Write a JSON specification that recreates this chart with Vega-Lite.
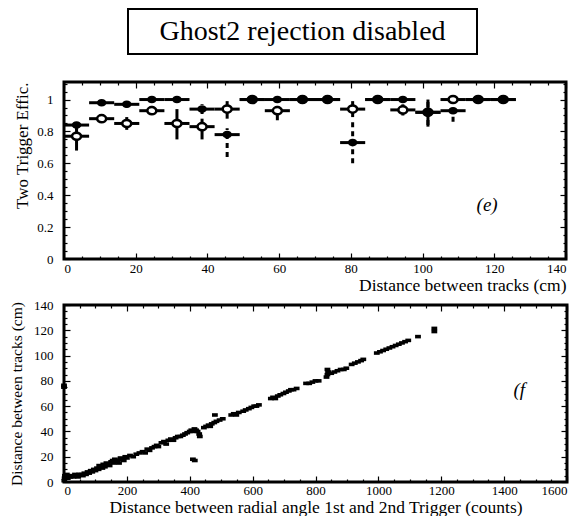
{
  "$schema": "https://vega.github.io/schema/vega-lite/v6.json",
  "background": "white",
  "padding": {"left": 7, "top": 8, "right": 2, "bottom": 1},
  "config": {
    "font": "Liberation Serif, serif",
    "view": {"stroke": null},
    "text": {"font": "Liberation Serif, serif"},
    "axis": {
      "grid": false, "domain": false, "tickColor": "black", "labelColor": "black", "titleColor": "black",
      "labelFont": "Liberation Serif, serif", "titleFont": "Liberation Serif, serif", "labelFontSize": 13,
      "titleFontWeight": "normal", "tickWidth": 1.2
    }
  },
  "spacing": 24,
  "vconcat": [
    {
      "spacing": 0,
      "hconcat": [
        {
          "width": 63, "height": 45,
          "data": {"values": [{}]},
          "mark": {"type": "text", "text": ""},
          "encoding": {}
        },
        {
          "width": 349, "height": 45,
          "view": {"stroke": "black", "strokeWidth": 2},
          "data": {"values": [{"t": "Ghost2 rejection disabled"}]},
          "mark": {"type": "text", "fontSize": 28, "font": "Liberation Serif, serif", "color": "black"},
          "encoding": {"text": {"field": "t"}}
        }
      ]
    },
    {
      "spacing": 2,
      "vconcat": [
        {
          "width": 502, "height": 177,
          "view": {"stroke": "black", "strokeWidth": 3},
          "data": {"values": [
            {"s":"O","x":3.5,"xlo":0,"xhi":7,"eff":0.77,"lo":0.68,"hi":0.84},
            {"s":"O","x":10.5,"xlo":7,"xhi":14,"eff":0.88,"lo":0.86,"hi":0.9},
            {"s":"O","x":17.5,"xlo":14,"xhi":21,"eff":0.85,"lo":0.81,"hi":0.89},
            {"s":"O","x":24.5,"xlo":21,"xhi":28,"eff":0.93,"lo":0.91,"hi":0.96},
            {"s":"O","x":31.5,"xlo":28,"xhi":35,"eff":0.85,"lo":0.75,"hi":0.94},
            {"s":"O","x":38.5,"xlo":35,"xhi":42,"eff":0.83,"lo":0.75,"hi":0.88},
            {"s":"O","x":45.5,"xlo":42,"xhi":49,"eff":0.94,"lo":0.88,"hi":0.99},
            {"s":"O","x":52.5,"xlo":49,"xhi":56,"eff":1,"lo":1,"hi":1},
            {"s":"O","x":59.5,"xlo":56,"xhi":63,"eff":0.93,"lo":0.87,"hi":0.96},
            {"s":"O","x":66.5,"xlo":63,"xhi":70,"eff":1,"lo":1,"hi":1},
            {"s":"O","x":73.5,"xlo":70,"xhi":77,"eff":1,"lo":1,"hi":1},
            {"s":"O","x":80.5,"xlo":77,"xhi":84,"eff":0.94,"lo":0.89,"hi":0.99},
            {"s":"O","x":87.5,"xlo":84,"xhi":91,"eff":1,"lo":1,"hi":1},
            {"s":"O","x":94.5,"xlo":91,"xhi":98,"eff":0.935,"lo":0.9,"hi":0.97},
            {"s":"O","x":101.5,"xlo":98,"xhi":105,"eff":0.92,"lo":0.83,"hi":1},
            {"s":"O","x":108.5,"xlo":105,"xhi":112,"eff":1,"lo":1,"hi":1},
            {"s":"O","x":115.5,"xlo":112,"xhi":119,"eff":1,"lo":1,"hi":1},
            {"s":"O","x":122.5,"xlo":119,"xhi":126,"eff":1,"lo":1,"hi":1},
            {"s":"F","x":3.5,"xlo":0,"xhi":7,"eff":0.84,"lo":0.81,"hi":0.86},
            {"s":"F","x":10.5,"xlo":7,"xhi":14,"eff":0.98,"lo":0.97,"hi":0.99},
            {"s":"F","x":17.5,"xlo":14,"xhi":21,"eff":0.97,"lo":0.95,"hi":0.99},
            {"s":"F","x":24.5,"xlo":21,"xhi":28,"eff":1,"lo":0.98,"hi":1},
            {"s":"F","x":31.5,"xlo":28,"xhi":35,"eff":1,"lo":1,"hi":1},
            {"s":"F","x":38.5,"xlo":35,"xhi":42,"eff":0.94,"lo":0.91,"hi":0.97},
            {"s":"F","x":45.5,"xlo":42,"xhi":49,"eff":0.78,"lo":0.64,"hi":0.82},
            {"s":"F","x":52.5,"xlo":49,"xhi":56,"eff":1,"lo":1,"hi":1},
            {"s":"F","x":59.5,"xlo":56,"xhi":63,"eff":1,"lo":0.98,"hi":1},
            {"s":"F","x":66.5,"xlo":63,"xhi":70,"eff":1,"lo":1,"hi":1},
            {"s":"F","x":73.5,"xlo":70,"xhi":77,"eff":1,"lo":1,"hi":1},
            {"s":"F","x":80.5,"xlo":77,"xhi":84,"eff":0.73,"lo":0.6,"hi":0.86},
            {"s":"F","x":87.5,"xlo":84,"xhi":91,"eff":1,"lo":1,"hi":1},
            {"s":"F","x":94.5,"xlo":91,"xhi":98,"eff":1,"lo":0.98,"hi":1},
            {"s":"F","x":101.5,"xlo":98,"xhi":105,"eff":0.92,"lo":0.84,"hi":0.99},
            {"s":"F","x":108.5,"xlo":105,"xhi":112,"eff":0.93,"lo":0.86,"hi":0.95},
            {"s":"F","x":115.5,"xlo":112,"xhi":119,"eff":1,"lo":1,"hi":1},
            {"s":"F","x":122.5,"xlo":119,"xhi":126,"eff":1,"lo":1,"hi":1}
          ]},
          "layer": [
            {
              "transform": [{"filter": "datum.s === 'O'"}],
              "mark": {"type": "rule", "strokeWidth": 3, "color": "black"},
              "encoding": {
                "x": {"field": "x", "type": "quantitative", "scale": {"domain": [0, 140], "nice": false, "zero": false},
                      "axis": {"orient": "bottom", "values": [0,20,40,60,80,100,120,140], "tickSize": -6, "labelPadding": 9,
                               "title": "Distance between tracks (cm)", "titleAnchor": "end", "titleFontSize": 17.5, "titlePadding": 1}},
                "y": {"field": "lo", "type": "quantitative", "scale": {"domain": [0, 1.11], "nice": false, "zero": false},
                      "axis": {"orient": "left", "values": [0,0.2,0.4,0.6,0.8,1], "format": "~g", "tickSize": -6, "labelPadding": 17,
                               "minExtent": 30, "maxExtent": 30,
                               "title": "Two Trigger Effic.", "titleAnchor": "end", "titleFontSize": 17, "titlePadding": 3}},
                "y2": {"field": "hi"}
              }
            },
            {
              "transform": [{"filter": "datum.s === 'O'"}],
              "mark": {"type": "rule", "strokeWidth": 3, "color": "black"},
              "encoding": {
                "x": {"field": "xlo", "type": "quantitative", "scale": {"domain": [0, 140], "nice": false, "zero": false},
                      "axis": {"orient": "top", "values": [0,20,40,60,80,100,120,140], "tickSize": -6, "labels": false, "title": null}},
                "x2": {"field": "xhi"},
                "y": {"field": "eff", "type": "quantitative", "scale": {"domain": [0, 1.11], "nice": false, "zero": false},
                      "axis": {"orient": "right", "values": [0,0.2,0.4,0.6,0.8,1], "tickSize": -6, "labels": false, "title": null}}
              }
            },
            {
              "transform": [{"filter": "datum.s === 'O'"}],
              "mark": {"type": "point", "shape": "M-1,0A1,0.8,0,1,1,1,0A1,0.8,0,1,1,-1,0Z", "filled": false, "fill": "white", "stroke": "black", "strokeWidth": 2.5, "size": 80, "opacity": 1},
              "encoding": {
                "x": {"field": "x", "type": "quantitative", "scale": {"domain": [0, 140], "nice": false, "zero": false},
                      "axis": {"orient": "bottom", "values": [5,10,15,25,30,35,45,50,55,65,70,75,85,90,95,105,110,115,125,130,135], "tickSize": -3, "labels": false, "title": null}},
                "y": {"field": "eff", "type": "quantitative", "scale": {"domain": [0, 1.11], "nice": false, "zero": false},
                      "axis": {"orient": "left", "values": [0.05,0.1,0.15,0.25,0.3,0.35,0.45,0.5,0.55,0.65,0.7,0.75,0.85,0.9,0.95,1.05,1.1], "tickSize": -3, "labels": false, "title": null}}
              }
            },
            {
              "transform": [{"filter": "datum.s === 'F'"}],
              "mark": {"type": "rule", "strokeWidth": 3, "color": "black", "strokeDash": [5, 4]},
              "encoding": {
                "x": {"field": "x", "type": "quantitative", "scale": {"domain": [0, 140], "nice": false, "zero": false},
                      "axis": {"orient": "top", "values": [5,10,15,25,30,35,45,50,55,65,70,75,85,90,95,105,110,115,125,130,135], "tickSize": -3, "labels": false, "title": null}},
                "y": {"field": "lo", "type": "quantitative", "scale": {"domain": [0, 1.11], "nice": false, "zero": false},
                      "axis": {"orient": "right", "values": [0.05,0.1,0.15,0.25,0.3,0.35,0.45,0.5,0.55,0.65,0.7,0.75,0.85,0.9,0.95,1.05,1.1], "tickSize": -3, "labels": false, "title": null}},
                "y2": {"field": "hi"}
              }
            },
            {
              "transform": [{"filter": "datum.s === 'F'"}],
              "mark": {"type": "rule", "strokeWidth": 3, "color": "black"},
              "encoding": {
                "x": {"field": "xlo", "type": "quantitative", "scale": {"domain": [0, 140], "nice": false, "zero": false}, "axis": null},
                "x2": {"field": "xhi"},
                "y": {"field": "eff", "type": "quantitative", "scale": {"domain": [0, 1.11], "nice": false, "zero": false}, "axis": null}
              }
            },
            {
              "transform": [{"filter": "datum.s === 'F'"}],
              "mark": {"type": "point", "shape": "M-1,0A1,0.8,0,1,1,1,0A1,0.8,0,1,1,-1,0Z", "filled": true, "color": "black", "size": 90, "opacity": 1},
              "encoding": {
                "x": {"field": "x", "type": "quantitative", "scale": {"domain": [0, 140], "nice": false, "zero": false}, "axis": null},
                "y": {"field": "eff", "type": "quantitative", "scale": {"domain": [0, 1.11], "nice": false, "zero": false}, "axis": null}
              }
            },
            {
              "data": {"values": [{}]},
              "mark": {"type": "text", "text": "(e)", "fontStyle": "italic", "fontSize": 19, "font": "Liberation Serif, serif", "color": "black"},
              "encoding": {
                "x": {"datum": 118, "type": "quantitative", "scale": {"domain": [0, 140], "nice": false, "zero": false}, "axis": null},
                "y": {"datum": 0.34, "type": "quantitative", "scale": {"domain": [0, 1.11], "nice": false, "zero": false}, "axis": null}
              }
            }
          ],
          "resolve": {"axis": {"x": "independent", "y": "independent"}}
        },
        {
          "width": 503, "height": 177,
          "view": {"stroke": "black", "strokeWidth": 3},
          "data": {"values": [
            {"c":0,"d":75},{"c":0,"d":76.5},{"c":1,"d":1},{"c":2,"d":3},{"c":3,"d":5},{"c":6,"d":4},{"c":9,"d":6},{"c":12,"d":3},{"c":15,"d":5},
            {"c":20,"d":4},{"c":25,"d":5},{"c":30,"d":4},{"c":35,"d":6},{"c":40,"d":5},{"c":45,"d":4},{"c":48,"d":6},
            {"c":55,"d":6},{"c":60,"d":5},{"c":65,"d":7},{"c":70,"d":6},{"c":75,"d":8},{"c":80,"d":7},{"c":85,"d":9},
            {"c":90,"d":8},{"c":95,"d":10},{"c":100,"d":9},{"c":105,"d":11},{"c":110,"d":10},{"c":112,"d":13},{"c":118,"d":12},
            {"c":122,"d":11},{"c":125,"d":14},{"c":130,"d":12},{"c":135,"d":15},{"c":140,"d":14},{"c":145,"d":13},{"c":150,"d":16},
            {"c":155,"d":17},{"c":158,"d":15},{"c":162,"d":18},{"c":165,"d":16},{"c":170,"d":17},{"c":175,"d":15},{"c":180,"d":19},
            {"c":185,"d":18},{"c":190,"d":17},{"c":195,"d":20},{"c":200,"d":19},{"c":210,"d":21},{"c":220,"d":20},{"c":230,"d":22},
            {"c":240,"d":23},{"c":250,"d":24},{"c":258,"d":23},{"c":265,"d":26},{"c":272,"d":25},{"c":280,"d":27},{"c":288,"d":28},
            {"c":295,"d":29},{"c":300,"d":28},{"c":310,"d":31},{"c":318,"d":32},{"c":325,"d":30},{"c":332,"d":33},{"c":340,"d":34},
            {"c":348,"d":33},{"c":355,"d":35},{"c":362,"d":36},{"c":370,"d":36},{"c":378,"d":37},{"c":385,"d":38},{"c":392,"d":39},
            {"c":400,"d":40},{"c":405,"d":41},{"c":410,"d":40},{"c":415,"d":42},{"c":420,"d":41},{"c":425,"d":40},{"c":430,"d":38},
            {"c":432,"d":36},{"c":410,"d":18},{"c":416,"d":17},{"c":445,"d":43},{"c":452,"d":44},{"c":460,"d":45},{"c":465,"d":44},
            {"c":470,"d":46},{"c":478,"d":47},{"c":480,"d":53},{"c":485,"d":48},{"c":495,"d":49},{"c":505,"d":50},
            {"c":532,"d":53},{"c":540,"d":54},{"c":548,"d":53},{"c":556,"d":55},{"c":570,"d":56},{"c":578,"d":57},{"c":588,"d":58},
            {"c":596,"d":59},{"c":605,"d":60},{"c":612,"d":60},{"c":620,"d":61},{"c":658,"d":66},{"c":665,"d":67},{"c":672,"d":66},
            {"c":680,"d":68},{"c":688,"d":69},{"c":698,"d":70},{"c":706,"d":71},{"c":715,"d":72},{"c":722,"d":73},{"c":730,"d":73},
            {"c":740,"d":74},{"c":770,"d":78},{"c":780,"d":78},{"c":790,"d":79},{"c":800,"d":80},{"c":810,"d":80},
            {"c":835,"d":83},{"c":838,"d":85},{"c":840,"d":87},{"c":838,"d":89},{"c":850,"d":86},{"c":860,"d":87},{"c":870,"d":88},
            {"c":880,"d":89},{"c":890,"d":89},{"c":898,"d":90},{"c":915,"d":93},{"c":925,"d":94},{"c":935,"d":95},{"c":945,"d":96},
            {"c":952,"d":97},{"c":995,"d":102},{"c":1005,"d":103},{"c":1015,"d":104},{"c":1025,"d":105},{"c":1035,"d":106},
            {"c":1045,"d":107},{"c":1055,"d":108},{"c":1065,"d":109},{"c":1075,"d":110},{"c":1085,"d":111},{"c":1095,"d":112},
            {"c":1126,"d":115},{"c":1178,"d":119},{"c":1178,"d":121.5}
          ]},
          "layer": [
            {
              "mark": {"type": "point", "shape": "M-1.3,-0.8H1.3V0.8H-1.3Z", "filled": true, "color": "black", "size": 20, "opacity": 1},
              "encoding": {
                "x": {"field": "c", "type": "quantitative", "scale": {"domain": [0, 1600], "nice": false, "zero": false},
                      "axis": {"orient": "bottom", "values": [0,200,400,600,800,1000,1200,1400,1600], "format": "d", "tickSize": -6, "labelPadding": 8,
                               "title": "Distance between radial angle 1st and 2nd Trigger (counts)", "titleFontSize": 17.5, "titlePadding": 1}},
                "y": {"field": "d", "type": "quantitative", "scale": {"domain": [0, 140], "nice": false, "zero": false},
                      "axis": {"orient": "left", "values": [0,20,40,60,80,100,120,140], "format": "d", "tickSize": -6, "labelPadding": 17,
                               "minExtent": 30, "maxExtent": 30,
                               "title": "Distance between tracks (cm)", "titleFontSize": 15.5, "titlePadding": 10}}
              }
            },
            {
              "mark": {"type": "point", "opacity": 0},
              "encoding": {
                "x": {"field": "c", "type": "quantitative", "scale": {"domain": [0, 1600], "nice": false, "zero": false},
                      "axis": {"orient": "top", "values": [0,200,400,600,800,1000,1200,1400,1600], "tickSize": -6, "labels": false, "title": null}},
                "y": {"field": "d", "type": "quantitative", "scale": {"domain": [0, 140], "nice": false, "zero": false},
                      "axis": {"orient": "right", "values": [0,20,40,60,80,100,120,140], "tickSize": -6, "labels": false, "title": null}}
              }
            },
            {
              "mark": {"type": "point", "opacity": 0},
              "encoding": {
                "x": {"field": "c", "type": "quantitative", "scale": {"domain": [0, 1600], "nice": false, "zero": false},
                      "axis": {"orient": "bottom", "values": [50,100,150,250,300,350,450,500,550,650,700,750,850,900,950,1050,1100,1150,1250,1300,1350,1450,1500,1550], "tickSize": -3, "labels": false, "title": null}},
                "y": {"field": "d", "type": "quantitative", "scale": {"domain": [0, 140], "nice": false, "zero": false},
                      "axis": {"orient": "left", "values": [5,10,15,25,30,35,45,50,55,65,70,75,85,90,95,105,110,115,125,130,135], "tickSize": -3, "labels": false, "title": null}}
              }
            },
            {
              "data": {"values": [{}]},
              "mark": {"type": "text", "text": "(f", "fontStyle": "italic", "fontSize": 19, "font": "Liberation Serif, serif", "color": "black"},
              "encoding": {
                "x": {"datum": 1448, "type": "quantitative", "scale": {"domain": [0, 1600], "nice": false, "zero": false},
                      "axis": {"orient": "top", "values": [50,100,150,250,300,350,450,500,550,650,700,750,850,900,950,1050,1100,1150,1250,1300,1350,1450,1500,1550], "tickSize": -3, "labels": false, "title": null}},
                "y": {"datum": 72.8, "type": "quantitative", "scale": {"domain": [0, 140], "nice": false, "zero": false},
                      "axis": {"orient": "right", "values": [5,10,15,25,30,35,45,50,55,65,70,75,85,90,95,105,110,115,125,130,135], "tickSize": -3, "labels": false, "title": null}}
              }
            }
          ],
          "resolve": {"axis": {"x": "independent", "y": "independent"}}
        }
      ]
    }
  ]
}
